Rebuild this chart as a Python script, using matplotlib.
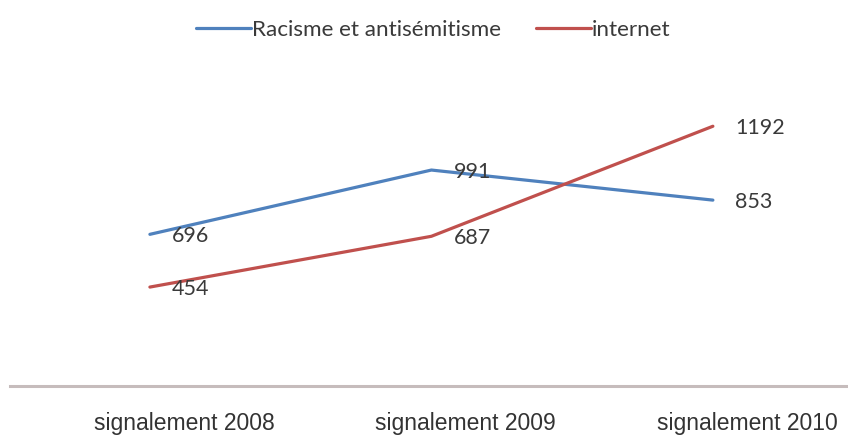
import matplotlib
matplotlib.use("Agg")
import matplotlib.pyplot as plt
import matplotlib.transforms as mtransforms

categories = ["signalement 2008", "signalement 2009", "signalement 2010"]
series_names = ["Racisme et antisémitisme", "internet"]
racisme = [696, 991, 853]
internet = [454, 687, 1192]

W, H = 848, 436
fig = plt.figure(figsize=(W / 100, H / 100), dpi=100)
fig.patch.set_facecolor("white")

ax_left, ax_right = 10, 848
ax_bottom, ax_top = 386, 60
ax = fig.add_axes([ax_left / W, 1 - ax_bottom / H, (ax_right - ax_left) / W, (ax_bottom - ax_top) / H])
ax.set_facecolor("none")

x = list(range(len(categories)))
l1, = ax.plot(x, racisme, color="#4F81BD", lw=2.3, solid_capstyle="round", label=series_names[0])
l2, = ax.plot(x, internet, color="#C0504D", lw=2.3, solid_capstyle="round", label=series_names[1])

ax.set_xlim(-0.497, 2.48)
ax.set_ylim(0, 1496)

lab_font = dict(family=["Lato", "DejaVu Sans"], fontsize=15.5, color="#3a3a3a")
for xs, vals in ((x, racisme), (x, internet)):
    for xi, v in zip(xs, vals):
        ax.annotate(str(v), (xi, v), xytext=(22, -2), textcoords="offset pixels",
                    ha="left", va="center", **lab_font)

for s in ("left", "right", "top"):
    ax.spines[s].set_visible(False)
ax.spines["bottom"].set_color("#c6bcbc")
ax.spines["bottom"].set_linewidth(2.2)
ax.set_yticks([])
ax.set_xticks(x)
ax.set_xticklabels(categories, family=["Liberation Sans", "DejaVu Sans"], fontsize=16.5, color="#333333")
ax.tick_params(axis="x", length=0, pad=19)
offset = mtransforms.ScaledTranslation(34 / 100, 0, fig.dpi_scale_trans)
for lbl in ax.get_xticklabels():
    lbl.set_transform(lbl.get_transform() + offset)

fs = 16.2
fs_px = fs * 100 / 72
leg = fig.legend(handles=[l1, l2], loc="center", bbox_to_anchor=(433 / W, 1 - 30 / H),
                 ncol=2, frameon=False, prop=dict(family=["Lato", "DejaVu Sans"], size=fs),
                 handlelength=55 / fs_px, handletextpad=0.05, columnspacing=35 / fs_px,
                 borderpad=0, borderaxespad=0)
for t in leg.get_texts():
    t.set_color("#3a3a3a")

fig.savefig("out.png", dpi=100, facecolor="white")
